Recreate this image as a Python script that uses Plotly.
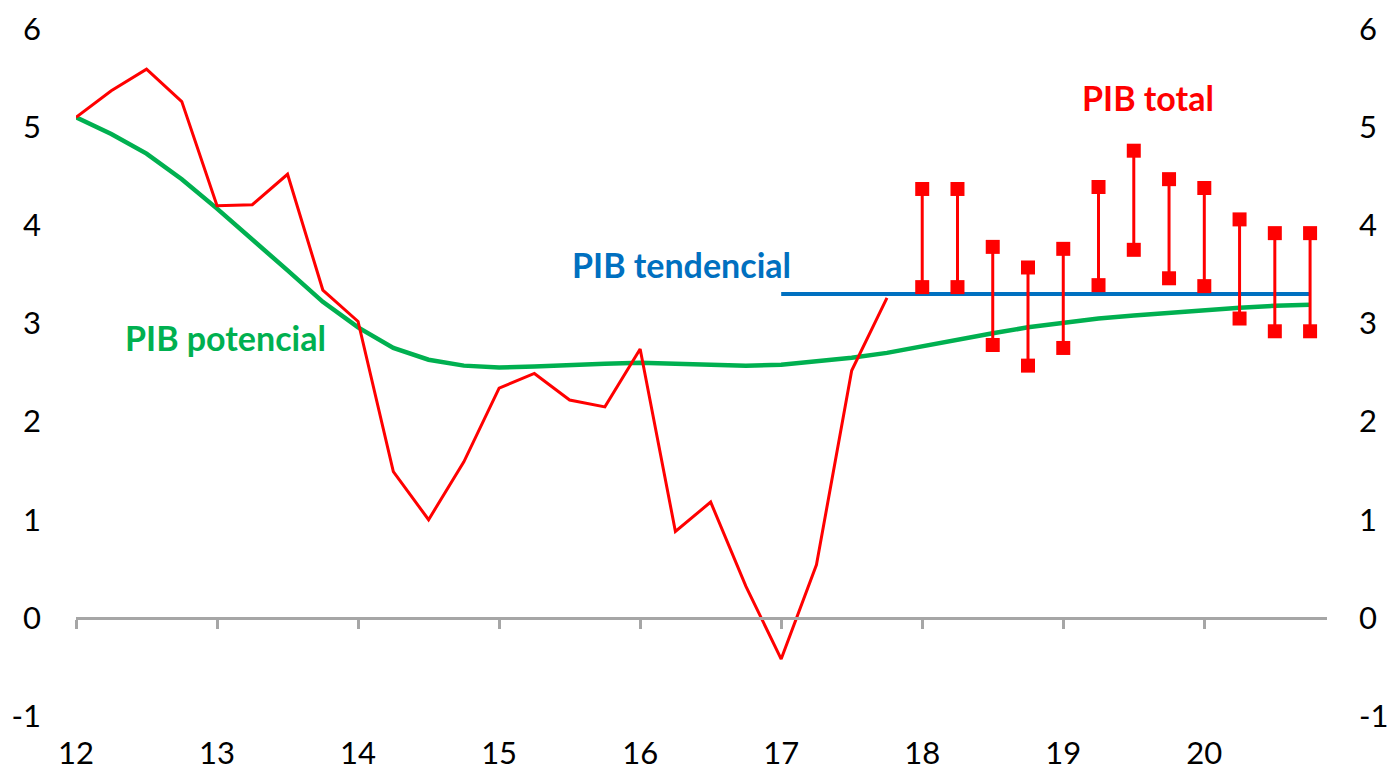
import plotly.graph_objects as go

# quarterly dates expressed as year fractions (12 = 2012)
total_x = [12 + i * 0.25 for i in range(24)]
total_y = [5.10, 5.37, 5.59, 5.26, 4.20, 4.21, 4.52, 3.34, 3.02, 1.49, 1.00, 1.59,
           2.34, 2.49, 2.22, 2.15, 2.74, 0.88, 1.18, 0.32, -0.42, 0.54, 2.52, 3.26]

pot_x = [12 + i * 0.25 for i in range(36)]
pot_y = [5.10, 4.93, 4.73, 4.47, 4.17, 3.86, 3.54, 3.22, 2.96, 2.75, 2.63, 2.57,
         2.55, 2.56, 2.58, 2.59, 2.60, 2.59, 2.58, 2.57, 2.58, 2.61, 2.65, 2.70,
         2.77, 2.84, 2.90, 2.96, 3.01, 3.05, 3.08, 3.11, 3.14, 3.16, 3.18, 3.19]

trend_x = [17.0, 20.75]
trend_y = [3.30, 3.30]

fc_x = [18.0 + i * 0.25 for i in range(12)]
fc_high = [4.37, 4.37, 3.78, 3.57, 3.76, 4.39, 4.76, 4.47, 4.38, 4.06, 3.92, 3.92]
fc_low = [3.37, 3.37, 2.78, 2.57, 2.75, 3.39, 3.75, 3.46, 3.38, 3.05, 2.92, 2.92]

years = [12, 13, 14, 15, 16, 17, 18, 19, 20]
y_ticks = [-1, 0, 1, 2, 3, 4, 5, 6]
y_labels = ["-1", "0", "1", "2", "3", "4", "5", "6"]

RED = "#FF0000"
GREEN = "#00B050"
BLUE = "#0070C0"
GREY = "#A6A6A6"
FONT = "Lato, Calibri, Liberation Sans, sans-serif"

fig = go.Figure()

fig.add_trace(go.Scatter(x=pot_x, y=pot_y, mode="lines",
                         line=dict(color=GREEN, width=4.5), hoverinfo="skip"))
fig.add_trace(go.Scatter(x=trend_x, y=trend_y, mode="lines",
                         line=dict(color=BLUE, width=4), hoverinfo="skip"))
fig.add_trace(go.Scatter(x=total_x, y=total_y, mode="lines",
                         line=dict(color=RED, width=3), hoverinfo="skip"))

# forecast ranges: vertical bar from low to high, square at both ends
spans = [h - l for h, l in zip(fc_high, fc_low)]
fig.add_trace(go.Scatter(
    x=fc_x, y=fc_low, mode="markers",
    marker=dict(symbol="square", size=14, color=RED),
    error_y=dict(type="data", array=spans, arrayminus=[0] * len(spans),
                 color=RED, thickness=3, width=0),
    hoverinfo="skip"))
fig.add_trace(go.Scatter(x=fc_x, y=fc_high, mode="markers",
                         marker=dict(symbol="square", size=14, color=RED),
                         hoverinfo="skip"))

# right-hand axis duplicate (dummy trace so the axis is drawn)
fig.add_trace(go.Scatter(x=[12], y=[0], yaxis="y2", mode="markers",
                         marker=dict(opacity=0), hoverinfo="skip"))
# axis line at zero with ticks
fig.add_trace(go.Scatter(x=[12], y=[0], xaxis="x2", mode="markers",
                         marker=dict(opacity=0), hoverinfo="skip"))

ymin, ymax = -1, 6
zero_pos = (0 - ymin) / (ymax - ymin)
xr = [12, 20.87]

fig.update_layout(
    width=1381, height=765,
    margin=dict(l=68, r=62, t=21, b=57),
    paper_bgcolor="white", plot_bgcolor="white",
    showlegend=False,
    font=dict(family=FONT, size=31, color="black"),
    xaxis=dict(range=xr, tickvals=years, showgrid=False, zeroline=False,
               showline=False, ticks="", ticklabelstandoff=16,
               ticklabeloverflow="allow", automargin=False),
    xaxis2=dict(range=xr, overlaying="x", anchor="free", position=zero_pos,
                side="bottom", tickvals=years, showticklabels=False,
                showgrid=False, zeroline=False, showline=True,
                linecolor=GREY, linewidth=3, ticks="outside", ticklen=9,
                tickwidth=3, tickcolor=GREY, automargin=False),
    yaxis=dict(range=[ymin, ymax], tickvals=y_ticks, ticktext=y_labels,
               showgrid=False, zeroline=False, showline=False, ticks="",
               ticklabelstandoff=34, ticklabeloverflow="allow",
               automargin=False),
    yaxis2=dict(range=[ymin, ymax], tickvals=y_ticks, ticktext=y_labels,
                overlaying="y", side="right", showgrid=False, zeroline=False,
                showline=False, ticks="", ticklabelstandoff=31,
                ticklabeloverflow="allow", automargin=False),
)

ann_font = dict(family=FONT, size=34)
fig.add_annotation(x=13.06, y=2.86, text="<b>PIB potencial</b>", showarrow=False,
                   font=dict(color=GREEN, **ann_font))
fig.add_annotation(x=16.29, y=3.6, text="<b>PIB tendencial</b>", showarrow=False,
                   font=dict(color=BLUE, **ann_font))
fig.add_annotation(x=19.6, y=5.3, text="<b>PIB total</b>", showarrow=False,
                   font=dict(color=RED, **ann_font))

fig.write_html("out.html")
